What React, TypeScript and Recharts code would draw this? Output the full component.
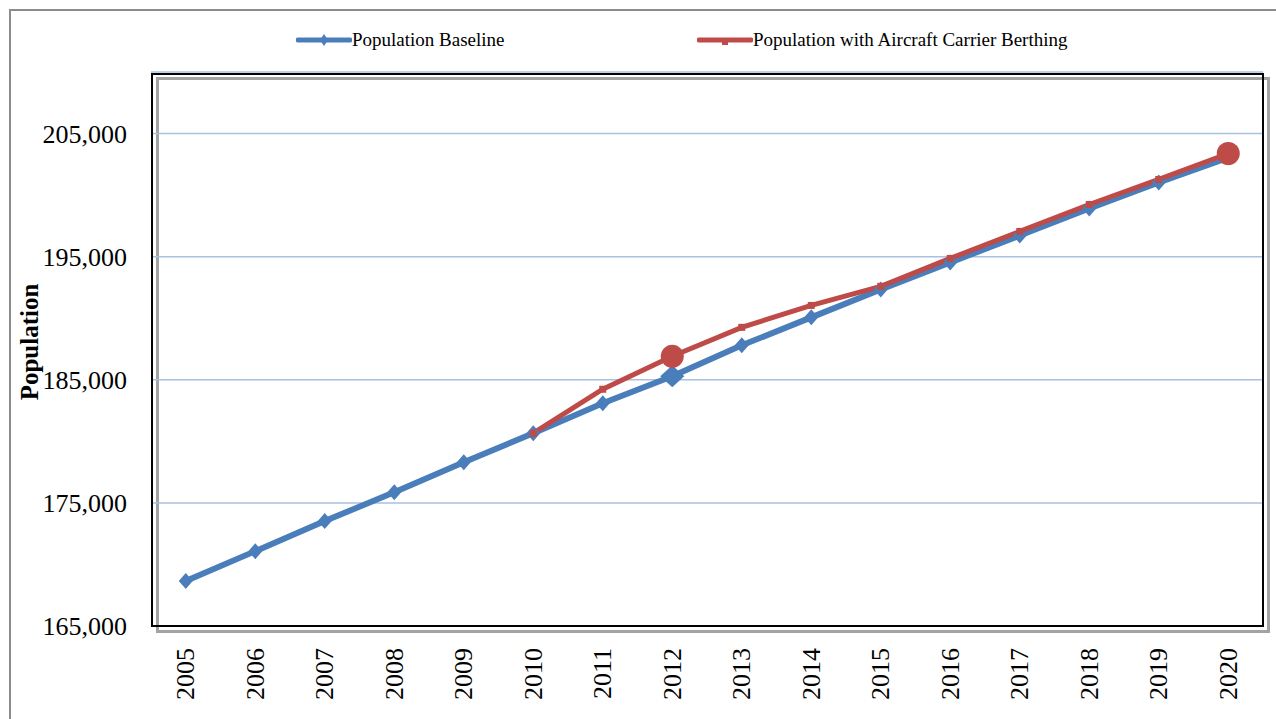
import React from 'react';
import { LineChart, Line, XAxis, YAxis, CartesianGrid } from 'recharts';

const years = [
  '2005', '2006', '2007', '2008', '2009', '2010', '2011', '2012',
  '2013', '2014', '2015', '2016', '2017', '2018', '2019', '2020',
];
const baseline = [
  168650, 171080, 173520, 175870, 178300, 180660, 183090, 185280,
  187800, 190070, 192340, 194530, 196720, 198910, 201020, 203050,
];
const berthing = [
  null, null, null, null, null, 180660, 184230, 186910,
  189260, 191040, 192590, 194860, 197050, 199240, 201270, 203380,
];
const yTicks = [165000, 175000, 185000, 195000, 205000];
const baselineBig = ['2012'];
const berthingBig = ['2012', '2020'];

const BLUE = '#4a7ebb';
const RED = '#be4b48';
const FONT = '"Liberation Serif", "Times New Roman", serif';

const data = years.map((year, i) => ({ year, baseline: baseline[i], berthing: berthing[i] }));

// plot frame in page pixels
const W = 1276;
const H = 719;
const PLOT = { left: 151, top: 72, right: 1263, bottom: 626 };

const diamondDot = (props: any) => {
  const { cx, cy, payload, index } = props;
  if (cx == null || cy == null) return <g key={`bd-${index}`} />;
  const big = baselineBig.includes(payload.year);
  const w = big ? 12 : 7;
  const h = big ? 11 : 8;
  return (
    <path
      key={`bd-${index}`}
      d={`M${cx},${cy - h} L${cx + w},${cy} L${cx},${cy + h} L${cx - w},${cy} Z`}
      fill={BLUE}
    />
  );
};

const squareDot = (props: any) => {
  const { cx, cy, payload, index } = props;
  if (cx == null || cy == null) return <g key={`rd-${index}`} />;
  if (berthingBig.includes(payload.year)) {
    return <circle key={`rd-${index}`} cx={cx} cy={cy} r={11.5} fill={RED} />;
  }
  return <rect key={`rd-${index}`} x={cx - 3.5} y={cy - 3.5} width={7} height={7} fill={RED} />;
};

const XTick = (props: any) => {
  const { x, y, payload } = props;
  return (
    <text
      transform={`translate(${x},${y}) rotate(-90)`}
      textAnchor="end"
      dominantBaseline="central"
      fontFamily={FONT}
      fontSize={26}
      fill="#000"
    >
      {payload.value}
    </text>
  );
};

const YLabel = (props: any) => {
  const { viewBox } = props;
  const cy = viewBox.y + viewBox.height / 2 - 7;
  return (
    <text
      transform={`translate(29,${cy}) rotate(-90)`}
      textAnchor="middle"
      dominantBaseline="central"
      fontFamily={FONT}
      fontWeight="bold"
      fontSize={25}
      fill="#000"
    >
      Population
    </text>
  );
};

const LegendItem = ({ left, color, label, square }: any) => (
  <div style={{ position: 'absolute', left, top: 28, display: 'flex', alignItems: 'center', height: 24 }}>
    <svg width={56} height={24}>
      <line x1={2} y1={12} x2={54} y2={12} stroke={color} strokeWidth={5} strokeLinecap="round" />
      {square ? (
        <rect x={25} y={11} width={6} height={6} fill={color} />
      ) : (
        <path d="M28,6 L32,12 L28,18 L24,12 Z" fill={color} />
      )}
    </svg>
    <span style={{ fontFamily: FONT, fontSize: 19, color: '#000', whiteSpace: 'nowrap' }}>{label}</span>
  </div>
);

export default function App() {
  return (
    <div style={{ position: 'absolute', left: 0, top: 0, width: W, height: H, overflow: 'hidden', background: '#fff' }}>
      <div style={{ position: 'absolute', left: 9, top: 9, width: W, height: H, borderLeft: '2px solid #8c8c8c', borderTop: '2px solid #8c8c8c' }} />
      <div
        style={{
          position: 'absolute',
          left: PLOT.left + 5,
          top: PLOT.top + 5,
          width: PLOT.right - PLOT.left + 2,
          height: PLOT.bottom - PLOT.top + 2,
          border: '3px solid #a3a3a3',
          boxSizing: 'border-box',
        }}
      />
      <div style={{ position: 'absolute', left: 0, top: 0 }}>
        <LineChart
          width={W}
          height={H}
          data={data}
          margin={{ top: PLOT.top, right: W - PLOT.right, left: 0, bottom: 0 }}
        >
          <CartesianGrid vertical={false} stroke="#a9c0de" strokeWidth={1.5} />
          <XAxis
            dataKey="year"
            height={H - PLOT.bottom}
            axisLine={false}
            tickLine={false}
            tickSize={0}
            tickMargin={22}
            interval={0}
            padding={{ left: 34.75, right: 34.75 }}
            tick={<XTick />}
          />
          <YAxis
            width={PLOT.left}
            domain={[165000, 210000]}
            ticks={yTicks}
            interval={0}
            axisLine={false}
            tickLine={false}
            tickSize={0}
            tickMargin={24}
            tick={{ fontFamily: FONT, fontSize: 26, fill: '#000' }}
            tickFormatter={(v: number) => v.toLocaleString('en-US')}
            label={<YLabel />}
          />
          <Line
            dataKey="baseline"
            stroke={BLUE}
            strokeWidth={6}
            dot={diamondDot}
            activeDot={false}
            isAnimationActive={false}
          />
          <Line
            dataKey="berthing"
            stroke={RED}
            strokeWidth={5}
            dot={squareDot}
            activeDot={false}
            connectNulls={false}
            isAnimationActive={false}
          />
        </LineChart>
      </div>
      <div
        style={{
          position: 'absolute',
          left: PLOT.left,
          top: PLOT.top + 1,
          width: PLOT.right - PLOT.left + 1,
          height: PLOT.bottom - PLOT.top,
          border: '2px solid #000',
          boxSizing: 'border-box',
          pointerEvents: 'none',
        }}
      />
      <LegendItem left={296} color={BLUE} label="Population Baseline" />
      <LegendItem left={697} color={RED} label="Population with Aircraft Carrier Berthing" square />
    </div>
  );
}
